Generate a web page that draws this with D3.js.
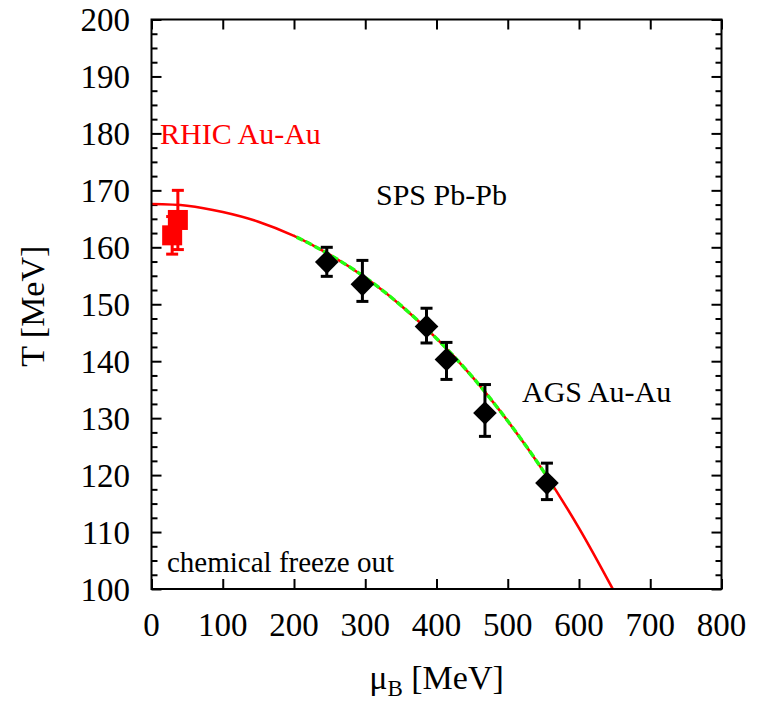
<!DOCTYPE html>
<html>
<head>
<meta charset="utf-8">
<script src="https://cdn.jsdelivr.net/npm/d3@7/dist/d3.min.js"></script>
<style>
  html, body { margin: 0; padding: 0; background: #fff; }
  svg { display: block; }
  text { font-family: "Liberation Serif", "Times New Roman", serif; }
</style>
</head>
<body>
<svg id="chart" width="757" height="701"></svg>
<script>
// Freeze-out curve, sampled every 50 MeV in mu_B
const curveMu = [0, 50, 100, 150, 200, 250, 300, 350, 400, 450, 500, 550, 600, 650];
const curveT  = [167.6, 167.3, 166.2, 164.5, 162.0, 158.7, 154.7, 149.8, 144.0, 137.3, 129.5, 120.7, 110.7, 99.4];
// Range of mu_B where the SPS/AGS fit is highlighted
const fitRange = [200, 565];

// SPS Pb-Pb and AGS Au-Au points
const hadronMu    = [246, 296, 386, 414, 468, 555];
const hadronT     = [157.4, 153.5, 146.1, 140.3, 130.9, 118.6];
const hadronErrHi = [2.6, 4.2, 3.2, 3.0, 5.0, 3.5];
const hadronErrLo = [2.5, 3.0, 2.9, 3.5, 4.1, 2.9];

// RHIC Au-Au points
const rhicMu  = [29, 37];
const rhicT   = [162.1, 164.8];
const rhicErr = [3.3, 5.2];

const xTicks = [0, 100, 200, 300, 400, 500, 600, 700, 800];
const yTicks = [100, 110, 120, 130, 140, 150, 160, 170, 180, 190, 200];

const svg = d3.select("#chart");
const L = 151.5, R = 721.5, T = 19.5, B = 589;

const x = d3.scaleLinear().domain([0, 800]).range([L, R]);
const y = d3.scaleLinear().domain([100, 200]).range([B, T]);

const defs = svg.append("defs");
defs.append("clipPath").attr("id", "plotClip")
  .append("rect").attr("x", L).attr("y", T).attr("width", R - L).attr("height", B - T);
defs.append("clipPath").attr("id", "fitClip")
  .append("rect").attr("x", x(fitRange[0])).attr("y", T)
  .attr("width", x(fitRange[1]) - x(fitRange[0])).attr("height", B - T);

// Axes: ticks point inward on all four sides
const minorY = d3.range(100, 200.01, 2.5).filter(v => Math.abs(v % 10) > 1e-6);
const axisLeft = d3.axisRight(y).tickValues(yTicks).tickSize(10).tickFormat("");
const axisRightAx = d3.axisLeft(y).tickValues(yTicks).tickSize(10).tickFormat("");
const axisLeftMinor = d3.axisRight(y).tickValues(minorY).tickSize(6).tickFormat("");
const axisRightMinor = d3.axisLeft(y).tickValues(minorY).tickSize(6).tickFormat("");
const axisBottom = d3.axisTop(x).tickValues(xTicks).tickSize(10).tickFormat("");
const axisTop = d3.axisBottom(x).tickValues(xTicks).tickSize(10).tickFormat("");

function styleAxis(g) {
  g.select(".domain").remove();
  g.selectAll(".tick line").attr("stroke", "#000").attr("stroke-width", 2);
}
svg.append("g").attr("transform", `translate(${L},0)`).call(axisLeft).call(styleAxis);
svg.append("g").attr("transform", `translate(${L},0)`).call(axisLeftMinor).call(styleAxis);
svg.append("g").attr("transform", `translate(${R},0)`).call(axisRightAx).call(styleAxis);
svg.append("g").attr("transform", `translate(${R},0)`).call(axisRightMinor).call(styleAxis);
svg.append("g").attr("transform", `translate(0,${B})`).call(axisBottom).call(styleAxis);
svg.append("g").attr("transform", `translate(0,${T})`).call(axisTop).call(styleAxis);

// Tick labels
svg.append("g").selectAll("text").data(yTicks).join("text")
  .attr("x", 130).attr("y", d => y(d)).attr("dy", "0.35em")
  .attr("text-anchor", "end").attr("font-size", 33).text(d => d);
svg.append("g").selectAll("text").data(xTicks).join("text")
  .attr("x", d => x(d)).attr("y", 636)
  .attr("text-anchor", "middle").attr("font-size", 33).text(d => d);

// Axis titles
svg.append("text")
  .attr("transform", `translate(44,${(T + B) / 2 + 2}) rotate(-90)`)
  .attr("text-anchor", "middle").attr("font-size", 34).text("T [MeV]");
const xt = svg.append("text")
  .attr("x", (L + R) / 2).attr("y", 689)
  .attr("text-anchor", "middle").attr("font-size", 34);
xt.append("tspan").text("\u03bc");
xt.append("tspan").attr("font-size", 23).attr("dy", 7).text("B");
xt.append("tspan").attr("dy", -7).text(" [MeV]");

// Freeze-out curve
const line = d3.line().x((d, i) => x(curveMu[i])).y(d => y(d)).curve(d3.curveCatmullRom);
svg.append("path").datum(curveT)
  .attr("clip-path", "url(#plotClip)")
  .attr("d", line).attr("fill", "none").attr("stroke", "#ff0000").attr("stroke-width", 2.6);
svg.append("path").datum(curveT)
  .attr("clip-path", "url(#fitClip)")
  .attr("d", line).attr("fill", "none").attr("stroke", "#22ff11").attr("stroke-width", 3.4)
  .attr("stroke-dasharray", "7,3");

// Error bars with caps
function errorBars(mus, ts, lo, hi, color) {
  const g = svg.append("g").attr("stroke", color).attr("stroke-width", 3);
  mus.forEach((m, i) => {
    const cx = x(m), y1 = y(ts[i] + hi[i]), y2 = y(ts[i] - lo[i]);
    g.append("line").attr("x1", cx).attr("x2", cx).attr("y1", y1).attr("y2", y2);
    g.append("line").attr("x1", cx - 6).attr("x2", cx + 6).attr("y1", y1).attr("y2", y1);
    g.append("line").attr("x1", cx - 6).attr("x2", cx + 6).attr("y1", y2).attr("y2", y2);
  });
}
errorBars(hadronMu, hadronT, hadronErrLo, hadronErrHi, "#000");
errorBars(rhicMu, rhicT, rhicErr, rhicErr, "#ff0000");

// Diamonds for SPS/AGS
const diamond = d3.symbol().type(d3.symbolSquare).size(280);
svg.append("g").selectAll("path").data(hadronT).join("path")
  .attr("d", diamond)
  .attr("transform", (d, i) => `translate(${x(hadronMu[i])},${y(d)}) rotate(45)`)
  .attr("fill", "#000");

// Squares for RHIC
svg.append("g").selectAll("rect").data(rhicT).join("rect")
  .attr("x", (d, i) => x(rhicMu[i]) - 10).attr("y", d => y(d) - 10)
  .attr("width", 20).attr("height", 20).attr("fill", "#ff0000");

// Frame
svg.append("rect").attr("x", L).attr("y", T).attr("width", R - L).attr("height", B - T)
  .attr("fill", "none").attr("stroke", "#000").attr("stroke-width", 2);

// Annotations
svg.append("text").attr("x", 160).attr("y", 144).attr("font-size", 30)
  .attr("fill", "#ff0000").text("RHIC Au-Au");
svg.append("text").attr("x", 376).attr("y", 205).attr("font-size", 30).text("SPS Pb-Pb");
svg.append("text").attr("x", 522).attr("y", 402).attr("font-size", 30).text("AGS Au-Au");
svg.append("text").attr("x", 167).attr("y", 572).attr("font-size", 29).text("chemical freeze out");
</script>
</body>
</html>
